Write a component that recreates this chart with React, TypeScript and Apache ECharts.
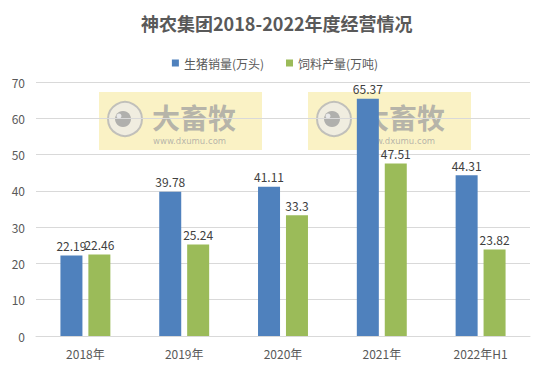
import React, { useEffect, useRef } from "react";
import * as echarts from "echarts";

const categories = ["2018年", "2019年", "2020年", "2021年", "2022年H1"];
const hogSales = [22.19, 39.78, 41.11, 65.37, 44.31];
const feedOutput = [22.46, 25.24, 33.3, 47.51, 23.82];
const seriesNames = ["生猪销量(万头)", "饲料产量(万吨)"];
const titleText = "神农集团2018-2022年度经营情况";

const FONT = "'Noto Sans CJK SC', 'Microsoft YaHei', sans-serif";

function watermark(x: number, y: number) {
  return {
    type: "group",
    x,
    y,
    z: 100,
    silent: true,
    children: [
      { type: "rect", shape: { x: 0, y: 0, width: 163, height: 58 }, style: { fill: "rgba(245,232,150,0.55)" } },
      { type: "circle", shape: { cx: 26, cy: 27, r: 17 }, style: { fill: "rgba(235,235,235,0.7)", stroke: "rgba(180,180,180,0.8)", lineWidth: 2 } },
      { type: "circle", shape: { cx: 24, cy: 27, r: 8 }, style: { fill: "rgba(160,160,160,0.8)" } },
      { type: "circle", shape: { cx: 20, cy: 24, r: 2.5 }, style: { fill: "rgba(240,240,240,0.9)" } },
      { type: "text", x: 53, y: 11, style: { text: "大畜牧", font: "bold 28px " + FONT, lineHeight: 28, verticalAlign: "top", fill: "rgba(160,160,160,0.75)" } },
      { type: "text", x: 54, y: 44, style: { text: "www.dxumu.com", font: "8.5px Verdana, 'DejaVu Sans', sans-serif", lineHeight: 9, verticalAlign: "top", fill: "rgba(160,160,160,0.75)" } },
    ],
  };
}

export default function App() {
  const ref = useRef<HTMLDivElement>(null);
  useEffect(() => {
    if (!ref.current) return;
    const chart = echarts.init(ref.current, undefined, { renderer: "svg" });
    const labelStyle = { show: true, position: "top", distance: 4, color: "#404040", fontSize: 12, fontFamily: FONT };
    chart.setOption({
      animation: false,
      backgroundColor: "#ffffff",
      textStyle: { fontFamily: FONT },
      title: {
        text: titleText,
        left: 136,
        top: 9,
        textStyle: { fontSize: 18, fontWeight: "bold", color: "#595959", fontFamily: FONT },
      },
      legend: {
        data: seriesNames,
        top: 52,
        left: "center",
        itemWidth: 7,
        itemHeight: 7,
        itemGap: 22,
        icon: "rect",
        textStyle: { fontSize: 12, color: "#595959", fontFamily: FONT },
      },
      grid: { left: 36, right: 20, top: 82, bottom: 41, containLabel: false },
      xAxis: {
        type: "category",
        data: categories,
        axisLine: { lineStyle: { color: "#D9D9D9" } },
        axisTick: { show: false },
        axisLabel: { color: "#595959", fontSize: 12, margin: 11, fontFamily: FONT },
      },
      yAxis: {
        type: "value",
        min: 0,
        max: 70,
        interval: 10,
        axisLine: { show: false },
        axisTick: { show: false },
        splitLine: { lineStyle: { color: "#D9D9D9" } },
        axisLabel: { color: "#595959", fontSize: 12, margin: 11, fontFamily: FONT },
      },
      series: [
        {
          name: seriesNames[0],
          type: "bar",
          data: hogSales,
          barWidth: 22,
          barGap: "27%",
          itemStyle: { color: "#4F81BD" },
          label: labelStyle,
        },
        {
          name: seriesNames[1],
          type: "bar",
          data: feedOutput,
          barWidth: 22,
          barGap: "27%",
          itemStyle: { color: "#9BBB59" },
          label: labelStyle,
        },
      ],
      graphic: [watermark(99, 92), watermark(308, 92)],
    });
    return () => chart.dispose();
  }, []);
  return <div ref={ref} style={{ width: 550, height: 377, margin: -8 }} />;
}
